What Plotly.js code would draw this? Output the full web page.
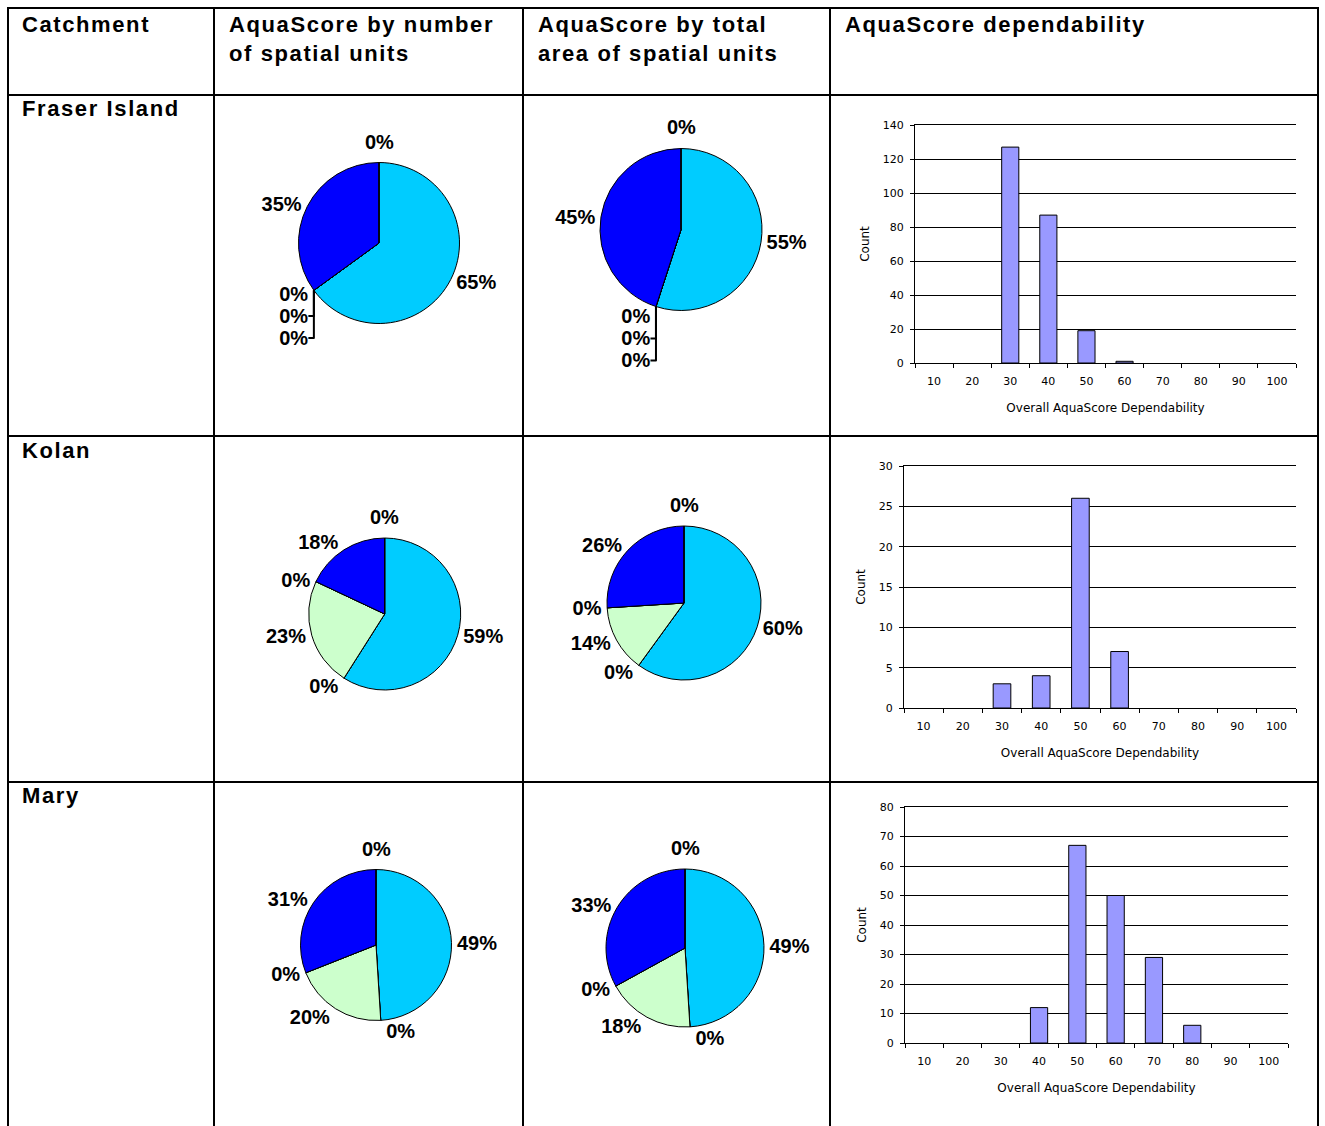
<!DOCTYPE html>
<html>
<head>
<meta charset="utf-8">
<script src="https://cdn.plot.ly/plotly-3.0.1.min.js"></script>
<style>
html, body { margin: 0; padding: 0; background: #ffffff; }
#chart { width: 1325px; height: 1126px; }
</style>
</head>
<body>
<div id="chart"></div>
<script>
// ---------------- DATA ----------------
const catchments = ['Fraser Island', 'Kolan', 'Mary'];
const columnHeaders = ['Catchment', 'AquaScore by number<br>of spatial units', 'AquaScore by total<br>area of spatial units', 'AquaScore dependability'];
const aquaClasses = ['Class 1', 'Class 2', 'Class 3', 'Class 4', 'Class 5', 'Class 6'];
const classColors = ['#00CCFF', '#FFFFFF', '#CCFFCC', '#FFFFFF', '#0000FF', '#FFFFFF'];

const fraserByNumber = [65, 0, 0, 0, 35, 0];
const fraserByArea   = [55, 0, 0, 0, 45, 0];
const kolanByNumber  = [59, 0, 23, 0, 18, 0];
const kolanByArea    = [60, 0, 14, 0, 26, 0];
const maryByNumber   = [49, 0, 20, 0, 31, 0];
const maryByArea     = [49, 0, 18, 0, 33, 0];

const dependabilityBins = ['10', '20', '30', '40', '50', '60', '70', '80', '90', '100'];
const fraserCounts = [0, 0, 127, 87, 19, 1, 0, 0, 0, 0];
const kolanCounts  = [0, 0, 3, 4, 26, 7, 0, 0, 0, 0];
const maryCounts   = [0, 0, 0, 12, 67, 50, 29, 6, 0, 0];

const xAxisTitle = 'Overall AquaScore Dependability';
const yAxisTitle = 'Count';

// ---------------- LAYOUT HELPERS ----------------
const W = 1325, H = 1126;
const px = x => x / W;
const py = y => 1 - y / H;
function pieDomain(cx, cy, r) {
  return { x: [px(cx - r), px(cx + r)], y: [py(cy + r), py(cy - r)] };
}
const labelFont = { family: 'Liberation Sans, Arial, sans-serif', size: 20, color: '#000000', weight: 'bold' };
const axisFont = { family: 'DejaVu Sans, sans-serif', size: 11, color: '#000000' };
const axisTitleFont = { family: 'DejaVu Sans, sans-serif', size: 12, color: '#000000' };

const annotations = [];

// pies: the slice that closes at 12 o'clock gets its label centred above the pie (as in the source)
function pieTrace(values, cx, cy, r) {
  const last = values.length - 1;
  const total = values.reduce((a, b) => a + b, 0);
  annotations.push({
    text: Math.round(100 * values[last] / total) + '%', xref: 'paper', yref: 'paper',
    x: px(cx), y: py(cy - r - 21), xanchor: 'center', yanchor: 'middle',
    showarrow: false, font: labelFont
  });
  return {
    type: 'pie', labels: aquaClasses, values: values, sort: false,
    direction: 'clockwise', rotation: 0, domain: pieDomain(cx, cy, r),
    marker: { colors: classColors, line: { color: '#000000', width: 1 } },
    textposition: values.map((v, i) => i === last ? 'none' : 'outside'),
    texttemplate: '%{percent:.0%}',
    textfont: labelFont, outsidetextfont: labelFont,
    showlegend: false, hoverinfo: 'label+percent', automargin: false
  };
}
function barTrace(values, xa, ya) {
  return {
    type: 'bar', x: dependabilityBins, y: values, xaxis: xa, yaxis: ya,
    marker: { color: '#9999FF', line: { color: '#000000', width: values.map(v => v > 0 ? 1 : 0) } },
    showlegend: false
  };
}
function barX(anchor, x0, x1) {
  return {
    domain: [px(x0), px(x1)], anchor: anchor, type: 'category',
    showline: true, mirror: true, linecolor: '#000000', linewidth: 1,
    ticks: 'outside', ticklen: 4, tickcolor: '#000000', tickson: 'boundaries',
    ticklabelstandoff: 8,
    showgrid: false, zeroline: false, tickfont: axisFont,
    title: { text: xAxisTitle, font: axisTitleFont, standoff: 16 }, fixedrange: true
  };
}
function barY(anchor, yTop, yBottom, max, dtick) {
  return {
    domain: [py(yBottom), py(yTop)], anchor: anchor, range: [0, max], dtick: dtick,
    showline: true, linecolor: '#000000', linewidth: 1,
    ticks: 'outside', ticklen: 4, tickcolor: '#000000', ticklabelstandoff: 4,
    showgrid: true, gridcolor: '#000000', gridwidth: 1, zeroline: false,
    tickfont: axisFont, title: { text: yAxisTitle, font: axisTitleFont, standoff: 10 }, fixedrange: true
  };
}

const data = [
  pieTrace(fraserByNumber, 379, 243, 80.5),
  pieTrace(fraserByArea, 681, 229.5, 81),
  pieTrace(kolanByNumber, 384.7, 614, 76),
  pieTrace(kolanByArea, 684, 603, 77),
  pieTrace(maryByNumber, 376, 945, 75.5),
  pieTrace(maryByArea, 685, 948, 79),
  barTrace(fraserCounts, 'x', 'y'),
  barTrace(kolanCounts, 'x2', 'y2'),
  barTrace(maryCounts, 'x3', 'y3')
];

// table lines
const lineStyle = { color: '#000000', width: 2 };
const shapes = [];
function hLine(y, x0, x1) { shapes.push({ type: 'line', xref: 'paper', yref: 'paper', x0: px(x0), x1: px(x1), y0: py(y), y1: py(y), line: lineStyle }); }
function vLine(x, y0, y1) { shapes.push({ type: 'line', xref: 'paper', yref: 'paper', x0: px(x), x1: px(x), y0: py(y0), y1: py(y1), line: lineStyle }); }
[8, 95, 436, 782].forEach(y => hLine(y, 7, 1319));
[8, 214, 523, 830, 1318].forEach(x => vLine(x, 7, 1126));

// table texts
const cellFont = { family: 'Liberation Sans, Arial, sans-serif', size: 22, color: '#000000', weight: 'bold' };
function cellText(text, x, yTop) {
  annotations.push({ text: text, xref: 'paper', yref: 'paper', x: px(x), y: py(yTop),
    xanchor: 'left', yanchor: 'top', align: 'left', showarrow: false, font: cellFont });
}
const headerX = [20, 227, 536, 843];
columnHeaders.forEach((h, i) => cellText(h, headerX[i], 10));
const rowTops = [94, 436, 781];
catchments.forEach((c, i) => cellText(c, 20, rowTops[i]));

const layout = {
  width: W, height: H, autosize: false,
  margin: { l: 0, r: 0, t: 0, b: 0, pad: 0 },
  paper_bgcolor: '#ffffff', plot_bgcolor: '#ffffff',
  bargap: 0.55,
  xaxis: barX('y', 915, 1296),
  yaxis: barY('x', 125, 363, 140, 20),
  xaxis2: barX('y2', 904, 1296),
  yaxis2: barY('x2', 466, 708, 30, 5),
  xaxis3: barX('y3', 905, 1288),
  yaxis3: barY('x3', 807, 1043, 80, 10),
  shapes: shapes,
  annotations: annotations
};

Plotly.newPlot('chart', data, layout, { staticPlot: true, displayModeBar: false }).then(gd => {
  gd.querySelectorAll('text.annotation-text').forEach(t => {
    if (parseFloat(t.style.fontSize) >= 21.5) t.style.letterSpacing = '1.6px';
  });
});
</script>
</body>
</html>
